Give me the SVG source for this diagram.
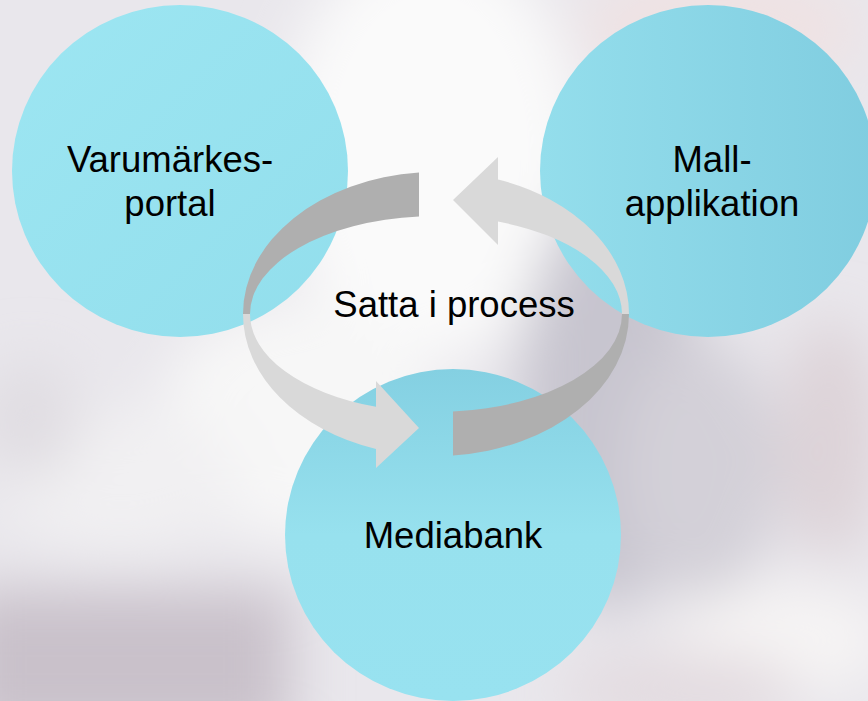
<svg xmlns="http://www.w3.org/2000/svg" width="868" height="701" viewBox="0 0 868 701">
  <defs>
    <filter id="blur" x="-20%" y="-20%" width="140%" height="140%">
      <feGaussianBlur stdDeviation="28"/>
    </filter>
    <linearGradient id="circL" x1="0" y1="0" x2="1" y2="1">
      <stop offset="0" stop-color="#9DE6F2"/>
      <stop offset="1" stop-color="#92DEEC"/>
    </linearGradient>
    <linearGradient id="circR" x1="0" y1="0" x2="1" y2="0">
      <stop offset="0" stop-color="#94DEEC"/>
      <stop offset="1" stop-color="#80CDE0"/>
    </linearGradient>
    <linearGradient id="circB" x1="0" y1="0" x2="0" y2="1">
      <stop offset="0" stop-color="#84D0E2"/>
      <stop offset="0.5" stop-color="#97E1EE"/>
      <stop offset="1" stop-color="#98E2F0"/>
    </linearGradient>
  </defs>
  <style>
    .lbl { font-family: "Liberation Sans", Arial, sans-serif; font-size: 36.5px; fill: #000000; text-anchor: middle; }
    .dark { fill: #AFAFAF; }
    .light { fill: #D9D9D9; }
  </style>

  <g id="background">
    <rect x="0" y="0" width="868" height="701" fill="#E9E7EC"/>
    <g filter="url(#blur)">
      <ellipse cx="430" cy="150" rx="150" ry="210" fill="#FAFAFA"/>
      <ellipse cx="300" cy="420" rx="140" ry="120" fill="#F7F7F7"/>
      <ellipse cx="120" cy="480" rx="120" ry="70" fill="#F1F0F2"/>
      <ellipse cx="610" cy="400" rx="90" ry="210" fill="#C7C5CF"/>
      <ellipse cx="700" cy="470" rx="80" ry="130" fill="#D3D0D8"/>
      <ellipse cx="720" cy="30" rx="140" ry="60" fill="#EFE2E3"/>
      <ellipse cx="830" cy="440" rx="50" ry="120" fill="#DDD3D8"/>
      <ellipse cx="780" cy="640" rx="110" ry="55" fill="#F6F4F4"/>
      <rect x="-40" y="590" width="330" height="150" fill="#C9C1CA"/>
      <ellipse cx="30" cy="420" rx="50" ry="60" fill="#E0DDE2"/>
      <ellipse cx="680" cy="690" rx="120" ry="40" fill="#E3DBE0"/>
    </g>
  </g>

  <g id="node-varumarkesportal">
    <ellipse cx="180" cy="171" rx="168" ry="166" fill="url(#circL)"/>
    <text class="lbl" x="170" y="172">Varumärkes-</text>
    <text class="lbl" x="170" y="215.5">portal</text>
  </g>

  <g id="node-mallapplikation">
    <ellipse cx="708" cy="171" rx="168" ry="166" fill="url(#circR)"/>
    <text class="lbl" x="712" y="172">Mall-</text>
    <text class="lbl" x="712" y="215.5">applikation</text>
  </g>

  <g id="node-mediabank">
    <ellipse cx="453" cy="535" rx="168" ry="166" fill="url(#circB)"/>
    <text class="lbl" x="453" y="548">Mediabank</text>
  </g>

  <g id="connectors">
    <path class="dark" d="M 419 172.6 A 193 142 0 0 0 243 314 L 250 314 A 186 98 0 0 1 419 216.4 Z"/>
    <path class="light" d="M 243 314 A 193 142 0 0 0 376 449 L 376 468 L 419 428 L 376 381 L 376 406.8 A 186 98 0 0 1 250 314 Z"/>
    <path class="dark" d="M 453 455.4 A 193 142 0 0 0 629 314 L 622 314 A 186 98 0 0 1 453 411.6 Z"/>
    <path class="light" d="M 629 314 A 193 142 0 0 0 498 179.5 L 498 157 L 453 200 L 498 245 L 498 221.6 A 186 98 0 0 1 622 314 Z"/>
  </g>

  <g id="node-center">
    <text class="lbl" x="454" y="317">Satta i process</text>
  </g>
</svg>
